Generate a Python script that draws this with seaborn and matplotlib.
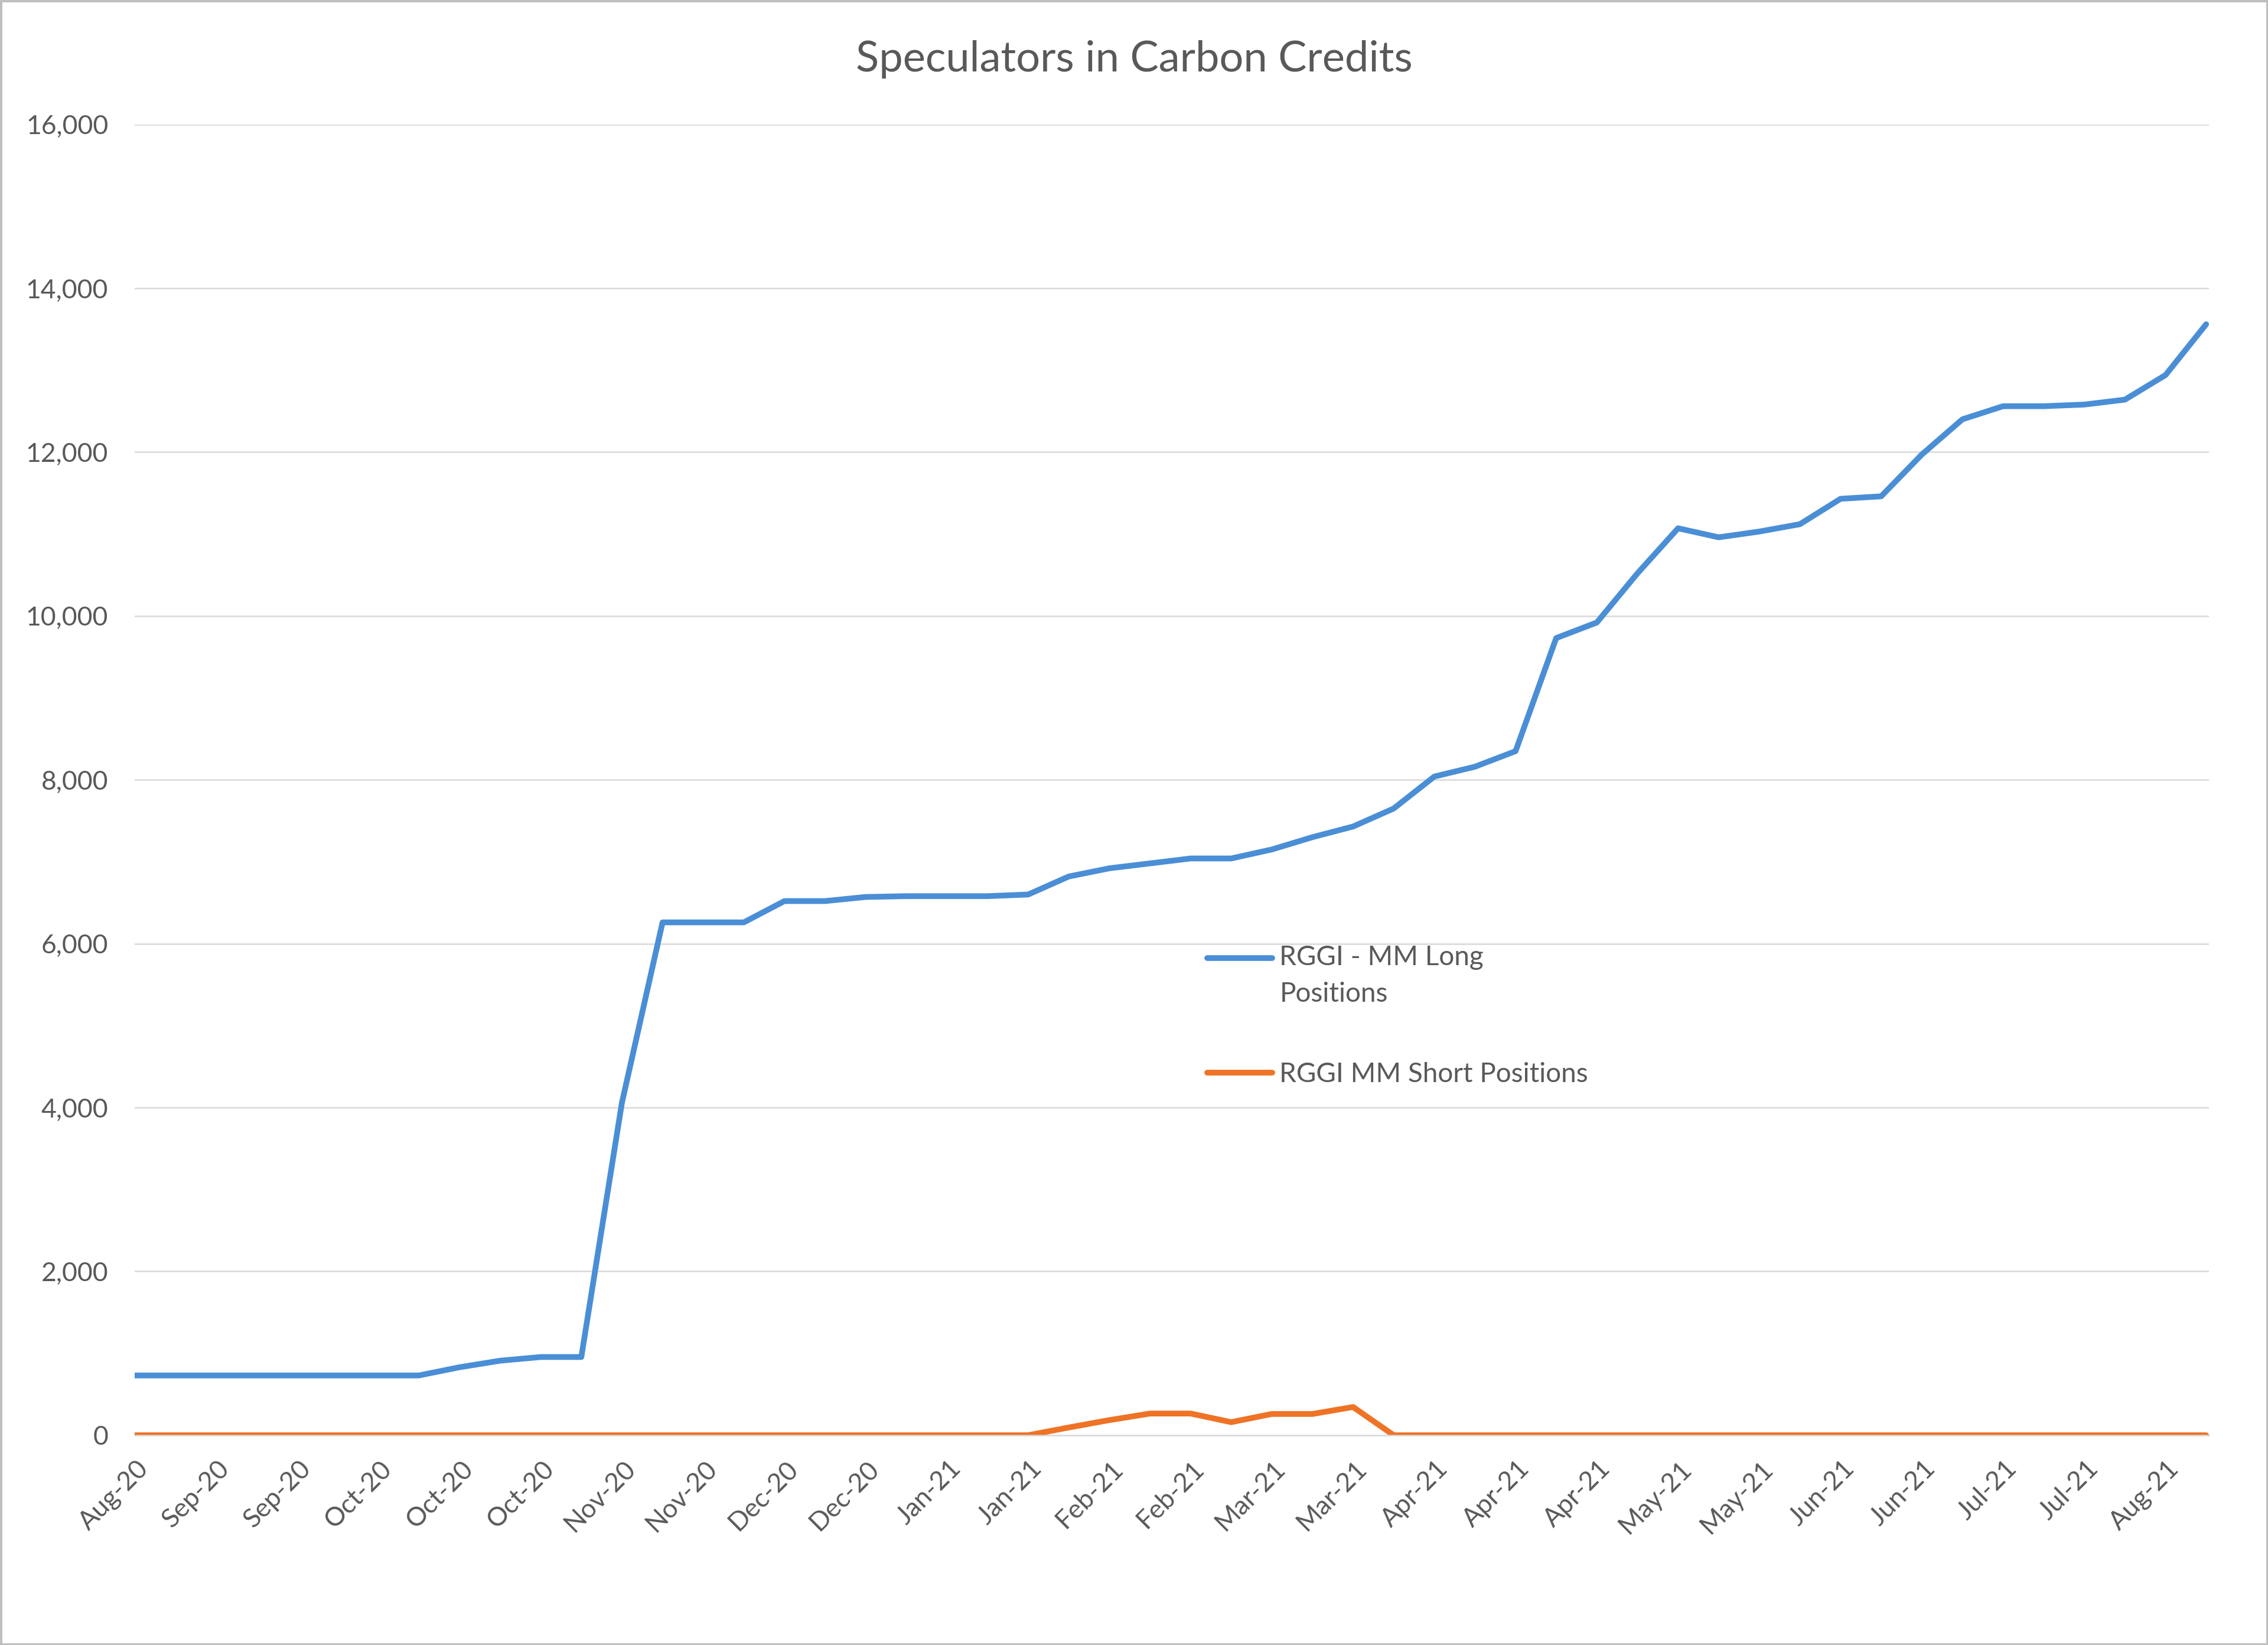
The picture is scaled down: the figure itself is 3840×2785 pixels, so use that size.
import pandas as pd
import matplotlib.pyplot as plt
import matplotlib.dates as mdates
import matplotlib.transforms as mtransforms
from matplotlib.ticker import FuncFormatter
from matplotlib.patches import Rectangle
import seaborn as sns

# Weekly positions (contracts)
long_positions = [730, 730, 730, 730, 730, 730, 730, 730, 830, 910,
                  955, 955, 4060, 6260, 6260, 6260, 6520, 6520, 6570, 6580,
                  6580, 6580, 6600, 6820, 6920, 6980, 7040, 7040, 7150, 7300,
                  7430, 7650, 8040, 8160, 8350, 9730, 9920, 10520, 11070, 10960,
                  11030, 11120, 11430, 11460, 11970, 12400, 12560, 12560, 12580, 12640,
                  12940, 13560]
short_positions = [0, 0, 0, 0, 0, 0, 0, 0, 0, 0,
                   0, 0, 0, 0, 0, 0, 0, 0, 0, 0,
                   0, 0, 0, 95, 185, 265, 265, 160, 260, 260,
                   345, 0, 0, 0, 0, 0, 0, 0, 0, 0,
                   0, 0, 0, 0, 0, 0, 0, 0, 0, 0,
                   0, 0]
week_dates = pd.date_range('2020-08-20', periods=len(long_positions), freq='7D')
series_names = ['RGGI - MM Long\nPositions', 'RGGI MM Short Positions']
series_colors = ['#4A8ED6', '#EE7326']
y_ticks = list(range(0, 16001, 2000))

sns.set_style('white')
plt.rcParams['font.family'] = ['Lato', 'DejaVu Sans']
text_color = '#595959'
grid_color = '#D9D9D9'

df = pd.DataFrame({
    'Week': list(week_dates) * 2,
    'Contracts': long_positions + short_positions,
    'Series': [series_names[0]] * len(long_positions) + [series_names[1]] * len(short_positions),
})

fig = plt.figure(figsize=(19.2, 13.925), dpi=200)
ax = fig.add_axes([0.0593, 0.1275, 0.9147, 0.7969])
sns.lineplot(data=df, x='Week', y='Contracts', hue='Series', hue_order=series_names,
             palette=dict(zip(series_names, series_colors)), linewidth=3.5,
             sort=False, legend=False, ax=ax)
for line in ax.get_lines():
    line.set_solid_capstyle('round')

ax.set_xlim(week_dates[0], week_dates[-1] + pd.Timedelta(hours=12))
ax.set_ylim(0, 16000)
ax.set_yticks(y_ticks)
ax.yaxis.set_major_formatter(FuncFormatter(lambda v, p: f'{int(v):,}'))
ax.set_xticks(week_dates[::2])
ax.xaxis.set_major_formatter(mdates.DateFormatter('%b-%y'))
ax.set_xlabel('')
ax.set_ylabel('')

ax.yaxis.grid(True, color=grid_color, lw=0.9)
ax.xaxis.grid(False)
ax.set_axisbelow(True)
for side in ['left', 'right', 'top']:
    ax.spines[side].set_visible(False)
ax.spines['bottom'].set_color(grid_color)
ax.spines['bottom'].set_linewidth(0.9)

ax.tick_params(axis='y', length=0, pad=16, labelsize=16, labelcolor=text_color)
ax.tick_params(axis='x', length=4, width=0.9, color=grid_color, pad=14,
               labelsize=16, labelcolor=text_color)
shift = mtransforms.ScaledTranslation(6 / 72, 0, fig.dpi_scale_trans)
for lbl in ax.get_xticklabels():
    lbl.set_rotation(45)
    lbl.set_ha('right')
    lbl.set_va('center')
    lbl.set_rotation_mode('anchor')
    lbl.set_transform(lbl.get_transform() + shift)

fig.text(0.5, 1 - 41 / 1137, 'Speculators in Carbon Credits', ha='center', va='center',
         fontsize=26, color=text_color)

handles = ax.get_lines()[:2]
leg = ax.legend(handles, series_names, loc='upper left', bbox_to_anchor=(0.517, 0.374),
                frameon=False, borderpad=0, borderaxespad=0, handlelength=2.4,
                handletextpad=0.28, labelspacing=2.05, fontsize=16.5)
for t in leg.get_texts():
    t.set_color(text_color)
leg.get_texts()[0].set_linespacing(1.6)

fig.canvas.draw()
# keep the first handle next to the first line of its two-line label
h0 = leg.legend_handles[0]
h0.set_ydata([y + 11 for y in h0.get_ydata()])

fig.patches.append(Rectangle((0, 0), 1, 1, transform=fig.transFigure, fill=False,
                             edgecolor='#BFBFBF', lw=2.5))

fig.savefig('out.png', dpi=200)
